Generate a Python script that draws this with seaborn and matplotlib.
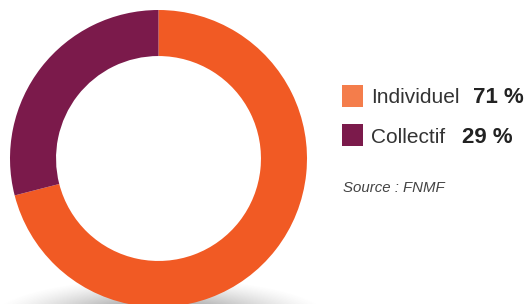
import numpy as np
import seaborn as sns
import matplotlib.pyplot as plt
from matplotlib.patches import Rectangle

labels = ['Individuel', 'Collectif']
shares = [71, 29]
pct_labels = ['71 %', '29 %']
source = 'Source : FNMF'

wedge_colors = ['#F15A24', '#7B1A4B']
legend_colors = ['#F47D4B', '#7B1A4B']

sns.set_theme(style='white')
plt.rcParams['font.family'] = ['Liberation Sans', 'DejaVu Sans']

W, H = 526, 304
fig = plt.figure(figsize=(W / 100, H / 100), dpi=100)
fig.patch.set_facecolor('white')

# background axes in pixel coords (y down) for the soft shadow
bg = fig.add_axes([0, 0, 1, 1])
bg.set_xlim(0, W)
bg.set_ylim(H, 0)
bg.axis('off')
yy, xx = np.mgrid[0:H, 0:W] + 0.5
d = np.sqrt(((xx - 160) / 170) ** 2 + ((yy - 318) / 40) ** 2)
alpha = np.clip(1 - d, 0, 1) ** 1.3 * 0.85
shadow = np.zeros((H, W, 4))
shadow[..., :3] = 0.33
shadow[..., 3] = alpha
bg.imshow(shadow, extent=(0, W, H, 0), interpolation='bilinear', zorder=0)

# donut: outer radius ~148 px centred at (158.5, 158.5)
cx, cy, r = 158.5, 158.5, 148.5
ax = fig.add_axes([(cx - r) / W, (H - cy - r) / H, 2 * r / W, 2 * r / H])
ax.pie(shares, colors=wedge_colors, startangle=90, counterclock=False,
       radius=1, wedgeprops=dict(width=0.31, edgecolor='none', linewidth=0))
ax.set_xlim(-1, 1)
ax.set_ylim(-1, 1)
ax.axis('off')
ax.patch.set_alpha(0)

# legend drawn by hand
sq_y = [85, 124]
text_y = [103, 143]
pct_x = [473, 462]
for i in range(len(labels)):
    bg.add_patch(Rectangle((342, sq_y[i]), 21, 21.5, color=legend_colors[i], lw=0))
    bg.text(371, text_y[i], labels[i], fontsize=15, color='#333333',
            ha='left', va='baseline')
    bg.text(pct_x[i], text_y[i], pct_labels[i], fontsize=16, color='#222222',
            fontweight='bold', ha='left', va='baseline')

bg.text(343, 192, source, fontsize=10.8, style='italic', color='#444444',
        ha='left', va='baseline')

fig.savefig('out.png', dpi=100)
